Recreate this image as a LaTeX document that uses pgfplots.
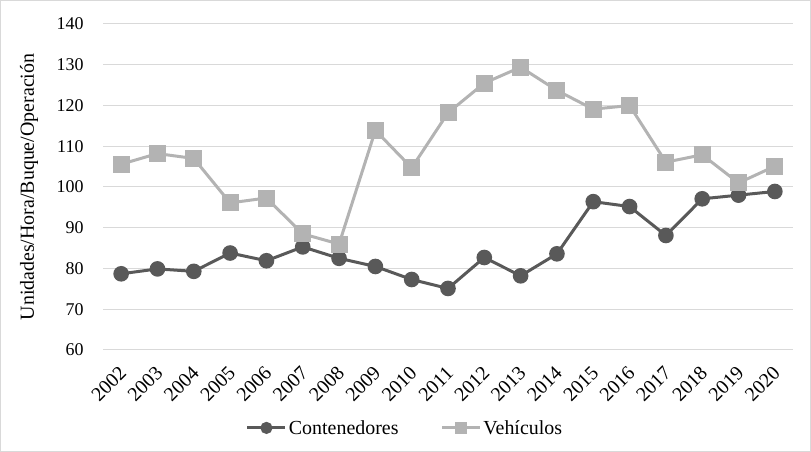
\documentclass[border=0pt]{standalone}
\usepackage{pgfplots}
\pgfplotsset{compat=1.18}
\usepackage{fontspec}
\setmainfont{Liberation Serif}
\definecolor{cont}{HTML}{595959}
\definecolor{veh}{HTML}{B3B3B3}
\definecolor{gridc}{HTML}{D9D9D9}

\begin{document}
\begin{tikzpicture}[font=\rmfamily]
\useasboundingbox (0bp,0bp) rectangle (811bp,452bp);
\draw[gridc, line width=1bp] (0.5bp,0.5bp) rectangle (810.5bp,451.5bp);
\begin{axis}[
    at={(103bp,102bp)}, anchor=south west,
    scale only axis, width=690bp, height=326bp,
    xmin=2001.5, xmax=2020.5,
    ymin=60, ymax=140,
    xtick={2002,...,2020},
    ytick={60,70,...,140},
    xticklabel style={xshift=-3bp, yshift=-15bp, rotate=45, anchor=north east, inner sep=0bp,
        font=\rmfamily\fontsize{20}{22}\selectfont},
    yticklabel style={xshift=-16bp, font=\rmfamily\fontsize{18}{20}\selectfont},
    /pgf/number format/assume math mode=true,
    /pgf/number format/1000 sep={},
    axis line style={draw=none},
    major tick style={draw=none},
    ymajorgrids,
    grid style={gridc, line width=1bp},
    ylabel={Unidades/Hora/Buque/Operación},
    every axis y label/.style={at={(rel axis cs:0,0.5)}, xshift=-74bp, rotate=90,
        anchor=center, font=\rmfamily\fontsize{20}{22}\selectfont},
    legend columns=2,
    legend style={at={(0.4377,-0.239)}, anchor=center, draw=none,
        font=\rmfamily\fontsize{20}{22}\selectfont,
        /tikz/every even column/.append style={column sep=40bp}},
    legend image code/.code={
        \draw[mark repeat=2, mark phase=2, mark size=4.5bp]
        plot coordinates {(0bp,0bp) (19bp,0bp) (38bp,0bp)};
    },
]
\addplot[cont, line width=3bp, mark=*, mark size=6.3bp] coordinates {
(2002,78.7) (2003,79.9) (2004,79.3) (2005,83.8) (2006,81.9) (2007,85.3)
(2008,82.5) (2009,80.5) (2010,77.3) (2011,75.1) (2012,82.7) (2013,78.2)
(2014,83.6) (2015,96.4) (2016,95.2) (2017,88.1) (2018,97.1) (2019,98.0)
(2020,98.9)};
\addlegendentry{Contenedores}
\addplot[veh, line width=3bp, mark=square*, mark size=7bp] coordinates {
(2002,105.6) (2003,108.2) (2004,107.0) (2005,96.1) (2006,97.3) (2007,88.5)
(2008,86.0) (2009,113.9) (2010,104.7) (2011,118.2) (2012,125.5) (2013,129.4)
(2014,123.7) (2015,119.1) (2016,120.0) (2017,106.1) (2018,107.9) (2019,101.0)
(2020,105.1)};
\addlegendentry{Vehículos}
\end{axis}
\end{tikzpicture}
\end{document}
